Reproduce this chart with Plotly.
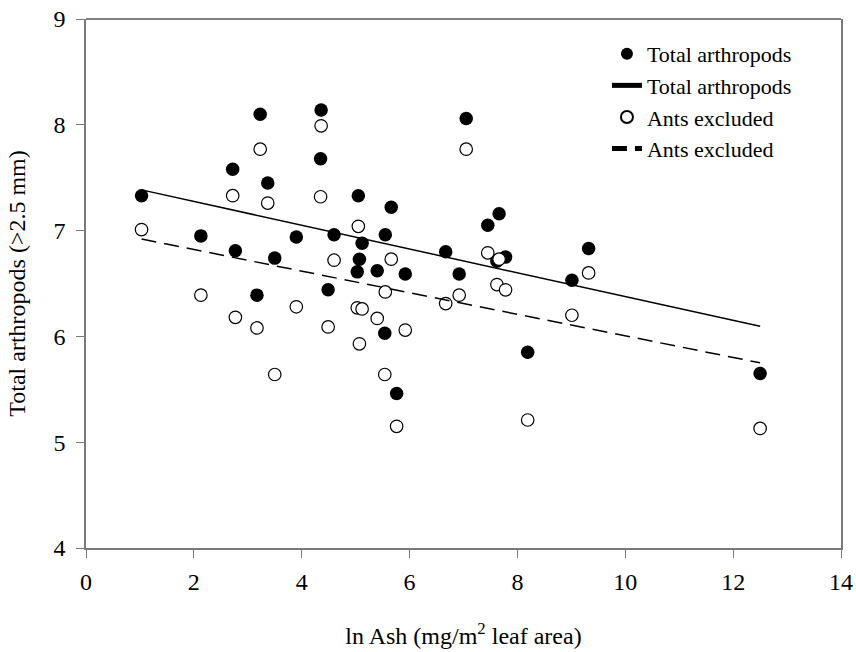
import plotly.graph_objects as go

# ln Ash (mg/m^2 leaf area) for each site
ln_ash = [1.03, 2.13, 2.72, 2.77, 3.17, 3.23, 3.37, 3.50, 3.90, 4.35, 4.36, 4.49,
          4.60, 5.03, 5.05, 5.07, 5.12, 5.40, 5.54, 5.55, 5.66, 5.76, 5.92, 6.67,
          6.92, 7.05, 7.45, 7.62, 7.66, 7.78, 8.19, 9.01, 9.32, 12.50]
total_arthropods = [7.33, 6.95, 7.58, 6.81, 6.39, 8.10, 7.45, 6.74, 6.94, 7.68, 8.14, 6.44,
                    6.96, 6.61, 7.33, 6.73, 6.88, 6.62, 6.03, 6.96, 7.22, 5.46, 6.59, 6.80,
                    6.59, 8.06, 7.05, 6.71, 7.16, 6.75, 5.85, 6.53, 6.83, 5.65]
ants_excluded = [7.01, 6.39, 7.33, 6.18, 6.08, 7.77, 7.26, 5.64, 6.28, 7.32, 7.99, 6.09,
                 6.72, 6.27, 7.04, 5.93, 6.26, 6.17, 5.64, 6.42, 6.73, 5.15, 6.06, 6.31,
                 6.39, 7.77, 6.79, 6.49, 6.73, 6.44, 5.21, 6.20, 6.60, 5.13]

# regression line end points
fit_x = [1.03, 12.50]
total_fit = [7.385, 6.095]
ants_fit = [6.92, 5.75]

x_ticks = [0, 2, 4, 6, 8, 10, 12, 14]
y_ticks = [4, 5, 6, 7, 8, 9]

FONT = "Liberation Serif, Times New Roman, serif"
AXIS_GRAY = "#7a7a7a"

fig = go.Figure()
fig.add_trace(go.Scatter(
    x=ln_ash, y=total_arthropods, mode="markers", name="Total arthropods",
    marker=dict(symbol="circle", size=13.5, color="black", line=dict(width=0))))
fig.add_trace(go.Scatter(
    x=fit_x, y=total_fit, mode="lines", name="Total arthropods",
    line=dict(color="black", width=1.5)))
fig.add_trace(go.Scatter(
    x=ln_ash, y=ants_excluded, mode="markers", name="Ants excluded",
    marker=dict(symbol="circle", size=12.5, color="white", line=dict(width=1.2, color="black"))))
fig.add_trace(go.Scatter(
    x=fit_x, y=ants_fit, mode="lines", name="Ants excluded",
    line=dict(color="black", width=1.5, dash="15px,8px")))

fig.update_layout(
    width=856, height=652,
    margin=dict(l=86, r=15, t=19, b=104, autoexpand=False),
    paper_bgcolor="white", plot_bgcolor="white",
    font=dict(family=FONT, size=24, color="black"),
    showlegend=True,
    legend=dict(x=0.69, y=0.9736, xanchor="left", yanchor="top",
                bgcolor="rgba(0,0,0,0)", font=dict(size=22, family=FONT),
                tracegroupgap=0, itemsizing="constant"),
    xaxis=dict(range=[0, 14], tickvals=x_ticks, ticks="outside", ticklen=8,
               tickcolor=AXIS_GRAY, tickwidth=1.2, showline=True, linecolor=AXIS_GRAY,
               linewidth=1.5, showgrid=False, zeroline=False, automargin=False,
               ticklabelstandoff=3, tickfont=dict(size=24, family=FONT),
               title=dict(text="ln Ash (mg/m<sup>2</sup> leaf area)", standoff=34,
                          font=dict(size=24, family=FONT))),
    yaxis=dict(range=[4, 9], tickvals=y_ticks, ticks="outside", ticklen=8,
               tickcolor=AXIS_GRAY, tickwidth=1.2, showline=True, linecolor=AXIS_GRAY,
               linewidth=1.5, mirror=True, showgrid=False, zeroline=False, automargin=False,
               ticklabelstandoff=6, tickfont=dict(size=24, family=FONT),
               title=dict(text="Total arthropods (>2.5 mm)", standoff=21,
                          font=dict(size=24, family=FONT))),
)
fig.add_shape(type="line", xref="paper", yref="paper", x0=0, x1=1, y0=1, y1=1,
              line=dict(color="black", width=1.2))

fig.write_html("out.html")
